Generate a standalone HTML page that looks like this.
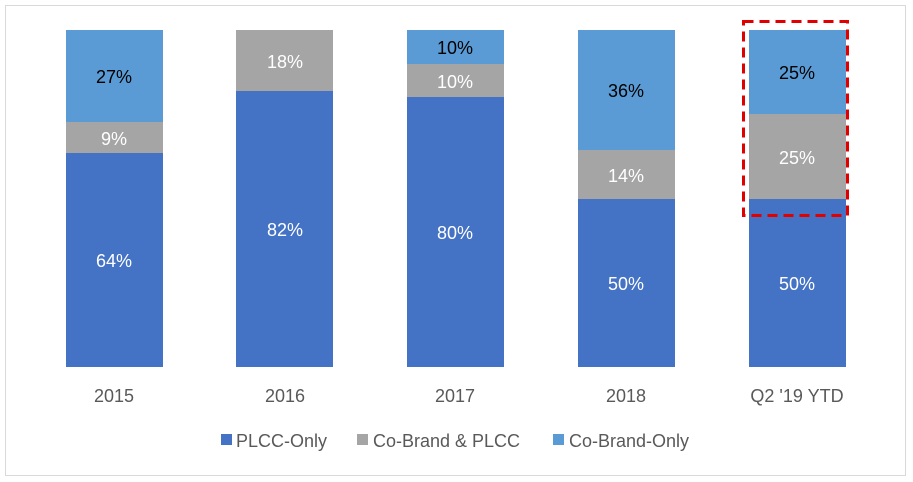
<!DOCTYPE html>
<html><head><style>body{margin:0;background:#fff}svg{display:block}</style></head><body>
<svg width="913" height="482" xmlns="http://www.w3.org/2000/svg" font-family="'Liberation Sans', sans-serif">
<rect x="5.5" y="5.5" width="900" height="470" fill="#fff" stroke="#d9d9d9"/>
<g>
<rect x="66" y="153" width="97" height="214" fill="#4472c4"/><rect x="66" y="122" width="97" height="31" fill="#a5a5a5"/><rect x="66" y="30" width="97" height="92" fill="#5b9bd5"/>
<rect x="236" y="91" width="97" height="276" fill="#4472c4"/><rect x="236" y="30" width="97" height="61" fill="#a5a5a5"/>
<rect x="407" y="97" width="97" height="270" fill="#4472c4"/><rect x="407" y="64" width="97" height="33" fill="#a5a5a5"/><rect x="407" y="30" width="97" height="34" fill="#5b9bd5"/>
<rect x="578" y="199" width="97" height="168" fill="#4472c4"/><rect x="578" y="150" width="97" height="49" fill="#a5a5a5"/><rect x="578" y="30" width="97" height="120" fill="#5b9bd5"/>
<rect x="749" y="199" width="97" height="168" fill="#4472c4"/><rect x="749" y="114" width="97" height="85" fill="#a5a5a5"/><rect x="749" y="30" width="97" height="84" fill="#5b9bd5"/>
</g>
<g font-size="18" text-anchor="middle">
<text x="114" y="267" fill="#fff">64%</text><text x="114" y="145" fill="#fff">9%</text><text x="114" y="83" fill="#000">27%</text>
<text x="285" y="236" fill="#fff">82%</text><text x="285" y="68" fill="#fff">18%</text>
<text x="455" y="239" fill="#fff">80%</text><text x="455" y="88" fill="#fff">10%</text><text x="455" y="54" fill="#000">10%</text>
<text x="626" y="290" fill="#fff">50%</text><text x="626" y="182" fill="#fff">14%</text><text x="626" y="97" fill="#000">36%</text>
<text x="797" y="290" fill="#fff">50%</text><text x="797" y="164" fill="#fff">25%</text><text x="797" y="79" fill="#000">25%</text>
</g>
<g font-size="18" text-anchor="middle" fill="#595959">
<text x="114" y="402">2015</text><text x="285" y="402">2016</text><text x="455" y="402">2017</text><text x="626" y="402">2018</text><text x="797" y="402">Q2 '19 YTD</text>
</g>
<rect x="743.5" y="21.5" width="104" height="194" fill="none" stroke="#e00000" stroke-width="3" stroke-dasharray="10,6"/>
<g font-size="18" fill="#595959">
<rect x="221" y="434" width="11" height="11" fill="#4472c4"/><text x="236" y="447">PLCC-Only</text>
<rect x="357" y="434" width="11" height="11" fill="#a5a5a5"/><text x="373" y="447">Co-Brand &amp; PLCC</text>
<rect x="553" y="434" width="11" height="11" fill="#5b9bd5"/><text x="569" y="447">Co-Brand-Only</text>
</g>
</svg>
</body></html>
